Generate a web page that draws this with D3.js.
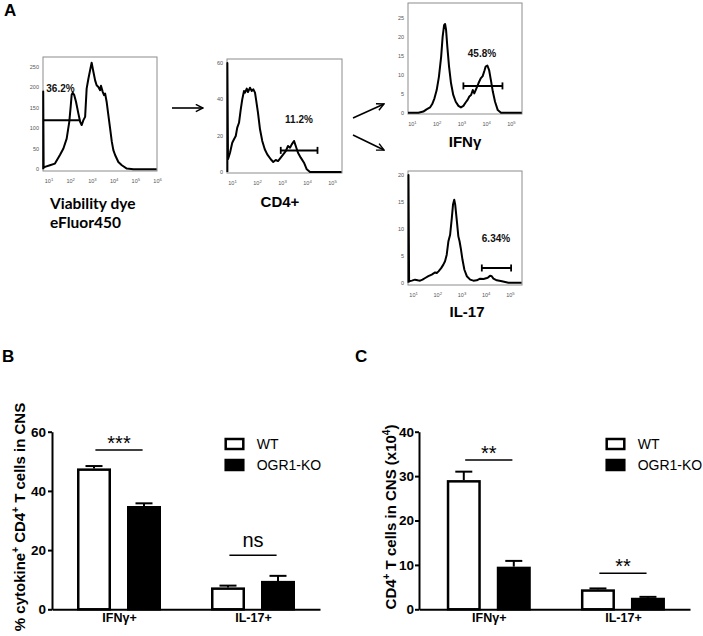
<!DOCTYPE html>
<html><head><meta charset="utf-8">
<script src="https://cdn.jsdelivr.net/npm/d3@7"></script>
<style>body{margin:0;background:#fff}svg{display:block}</style>
</head><body>
<svg id="fig" width="703" height="636"></svg>
<script>
// ---------- Panel A data: histogram points are [log10 fluorescence, events] ----------
const viabilityHist = [[0.78,0],[0.78,190],[0.80,4],[0.86,6],[1.09,10],[1.32,14],[1.55,35],[1.71,51],[1.86,75],[1.98,116],[2.05,156],[2.09,182],[2.14,187],[2.21,181],[2.29,165],[2.40,136],[2.48,116],[2.55,108],[2.63,120],[2.71,128],[2.78,197],[2.86,221],[2.94,242],[3.01,260],[3.09,238],[3.17,217],[3.24,205],[3.32,201],[3.40,193],[3.44,204],[3.52,189],[3.58,181],[3.63,185],[3.70,165],[3.78,132],[3.86,100],[3.94,67],[4.01,47],[4.09,35],[4.24,18],[4.40,10],[4.63,2],[4.93,0],[6.0,0]];
const cd4Hist = [[0.835,0],[0.835,60],[0.86,7],[0.94,10.6],[1.03,16.1],[1.10,18],[1.17,19.8],[1.23,24.4],[1.30,27.1],[1.37,34.5],[1.43,40],[1.50,44.6],[1.54,43.7],[1.61,45.9],[1.66,44],[1.74,46.4],[1.81,44.6],[1.87,45.5],[1.94,43.7],[1.99,39.1],[2.06,32.6],[2.14,23.5],[2.23,17.1],[2.33,12.5],[2.43,9.7],[2.57,7],[2.67,5.5],[2.77,6.6],[2.86,6.0],[2.97,7.9],[3.07,9.7],[3.17,11.5],[3.26,14.3],[3.34,13.4],[3.41,15.2],[3.50,17.1],[3.57,14.3],[3.66,10.6],[3.77,7.9],[3.90,5.1],[4.01,1.5],[4.14,0],[5.4,0]];
const ifngHist = [[0.86,0],[1.28,0],[1.48,0.3],[1.61,0.9],[1.75,1.4],[1.84,2.3],[1.93,3.8],[2.02,6.0],[2.11,9.5],[2.20,14.8],[2.26,20.1],[2.32,23.2],[2.36,23.5],[2.40,21.9],[2.45,17.5],[2.52,12.2],[2.60,7.8],[2.69,4.7],[2.79,2.9],[2.90,1.8],[3.00,1.4],[3.10,1.8],[3.19,2.7],[3.27,3.4],[3.34,4.3],[3.41,4.7],[3.48,6.0],[3.54,5.1],[3.61,6.2],[3.71,7.8],[3.80,9.1],[3.88,9.7],[3.95,11.1],[4.00,12.2],[4.07,12.5],[4.14,11.3],[4.21,8.7],[4.29,5.6],[4.38,2.9],[4.49,0.7],[4.62,0],[5.46,0]];
const il17Hist = [[0.83,0],[0.83,20],[0.855,0.25],[0.97,0.38],[1.10,0.56],[1.21,0.44],[1.31,0.38],[1.41,0.56],[1.52,0.87],[1.65,1.2],[1.79,1.5],[1.93,1.9],[2.00,1.8],[2.07,2.1],[2.18,2.7],[2.27,3.35],[2.34,3.97],[2.41,5.2],[2.48,7.7],[2.55,8.9],[2.62,12],[2.67,14.5],[2.72,15.4],[2.76,14.5],[2.83,11.4],[2.89,8.6],[2.94,7.7],[2.99,6.4],[3.06,4.3],[3.14,2.4],[3.24,1.2],[3.38,0.56],[3.51,0.38],[3.65,0.44],[3.79,0.75],[3.93,0.69],[4.07,0.87],[4.13,1.0],[4.20,1.3],[4.27,1.2],[4.34,0.75],[4.48,0.44],[4.69,0.25],[4.96,0],[5.5,0]];

// gates: [from log10, to log10, level]
const viabilityGate = [0.78, 2.48, 120];
const cd4Gate = [2.97, 4.44, 11.9];
const ifngGate = [3.10, 4.68, 7.1];
const il17Gate = [3.86, 5.07, 2.73];
const gatePercents = ["36.2%", "11.2%", "45.8%", "6.34%"];

const viabilityYTicks = [0, 50, 100, 150, 200, 250];
const cd4YTicks = [0, 20, 40, 60];
const ifngYTicks = [0, 5, 10, 15, 20, 25];
const il17YTicks = [0, 5, 10, 15, 20];
const decades6 = [1, 2, 3, 4, 5, 6];
const decades5 = [1, 2, 3, 4, 5];

// ---------- Panels B & C data ----------
const categories = ["IFNγ+", "IL-17+"];
const groups = ["WT", "OGR1-KO"];
const pctWT = [47.6, 7.4];
const pctWTErr = [0.8, 0.6];
const pctKO = [34.9, 9.6];
const pctKOErr = [0.9, 1.7];
const pctTicks = [0, 20, 40, 60];
const pctSig = ["***", "ns"];
const numWT = [29.1, 4.5];
const numWTErr = [1.9, 0.2];
const numKO = [9.6, 2.6];
const numKOErr = [1.3, 0.2];
const numTicks = [0, 10, 20, 30, 40];
const numSig = ["**", "**"];

const FONT = "'Liberation Sans', Arial, Helvetica, sans-serif";
const svg = d3.select("#fig");

// arrow marker
svg.append("defs").append("marker").attr("id","arr").attr("viewBox","0 0 10 10")
  .attr("refX",9).attr("refY",5).attr("markerWidth",9).attr("markerHeight",9)
  .attr("markerUnits","userSpaceOnUse").attr("orient","auto")
  .append("path").attr("d","M1,1 L9,5 L1,9").attr("fill","none").attr("stroke","#000").attr("stroke-width",1.6);

function drawHist(h) {
  const g = svg.append("g");
  const x = d3.scaleLog().domain([10 ** h.xd[0], 10 ** h.xd[1]]).range([h.x0, h.x1]);
  const y = d3.scaleLinear().domain(h.yd).range([h.y1, h.y0]);
  g.append("rect").attr("x", h.x0).attr("y", h.y0).attr("width", h.x1 - h.x0).attr("height", h.y1 - h.y0)
    .attr("fill", "none").attr("stroke", "#8c8c8c").attr("stroke-width", 1);
  g.selectAll(".yt").data(h.yTicks).join("text").attr("x", h.x0 - 4).attr("y", d => y(d) + 2)
    .attr("text-anchor", "end").attr("font-size", 5.5).attr("fill", "#555").attr("font-family", FONT).text(d => d);
  const xt = g.selectAll(".xt").data(h.xTicks).join("text").attr("x", d => x(10 ** d) + 1).attr("y", h.y1 + 12)
    .attr("text-anchor", "middle").attr("font-size", 5.5).attr("fill", "#555").attr("font-family", FONT);
  xt.append("tspan").text("10");
  xt.append("tspan").attr("dy", -2.5).attr("font-size", 4.2).text(d => d);
  const line = d3.line().x(d => x(10 ** d[0])).y(d => y(d[1]));
  g.append("path").datum(h.data).attr("d", line).attr("fill", "none").attr("stroke", "#000")
    .attr("stroke-width", 2).attr("stroke-linejoin", "round");
  const gy = y(h.gate[2]);
  g.append("line").attr("x1", x(10 ** h.gate[0])).attr("x2", x(10 ** h.gate[1])).attr("y1", gy).attr("y2", gy)
    .attr("stroke", "#000").attr("stroke-width", 2);
  if (h.caps) {
    [h.gate[0], h.gate[1]].forEach(v => g.append("line").attr("x1", x(10 ** v)).attr("x2", x(10 ** v))
      .attr("y1", gy - 3.5).attr("y2", gy + 3.5).attr("stroke", "#000").attr("stroke-width", 1.8));
  }
  g.append("text").attr("x", h.pct[0]).attr("y", h.pct[1]).attr("text-anchor", "middle")
    .attr("font-family", FONT).attr("font-weight", "bold").attr("font-size", 10).attr("fill", "#111").text(h.pctText);
  h.title.forEach((t, i) => g.append("text").attr("x", t.x).attr("y", t.y).attr("text-anchor", t.anchor)
    .attr("font-family", t.font).attr("font-weight", "bold").attr("font-size", t.size).attr("fill", "#000").text(t.text));
}

drawHist({x0:43, x1:157, y0:57, y1:171, xd:[0.77, 6.02], yd:[-4, 274], data:viabilityHist, yTicks:viabilityYTicks,
  xTicks:decades6, gate:viabilityGate, caps:false, pct:[60.5, 92], pctText:gatePercents[0],
  title:[{text:"Viability dye", x:50, y:209, anchor:"start", size:15.5, font:"Lato, 'Open Sans', sans-serif"},
         {text:"eFluor450", x:50, y:228, anchor:"start", size:15.5, font:"Lato, 'Open Sans', sans-serif"}]});
drawHist({x0:227, x1:342, y0:59, y1:173, xd:[0.82, 5.42], yd:[-0.55, 62.2], data:cd4Hist, yTicks:cd4YTicks,
  xTicks:decades5, gate:cd4Gate, caps:true, pct:[299, 123], pctText:gatePercents[1],
  title:[{text:"CD4+", x:280, y:207, anchor:"middle", size:15, font:FONT}]});
drawHist({x0:408, x1:522, y0:3, y1:114, xd:[0.86, 5.47], yd:[-0.34, 29.05], data:ifngHist, yTicks:ifngYTicks,
  xTicks:decades5, gate:ifngGate, caps:true, pct:[482, 57], pctText:gatePercents[2],
  title:[{text:"IFNγ", x:465, y:147, anchor:"middle", size:15, font:FONT}]});
drawHist({x0:408, x1:522, y0:171, y1:285, xd:[0.81, 5.52], yd:[-0.43, 20.74], data:il17Hist, yTicks:il17YTicks,
  xTicks:decades5, gate:il17Gate, caps:true, pct:[496, 242], pctText:gatePercents[3],
  title:[{text:"IL-17", x:467, y:317, anchor:"middle", size:15, font:FONT}]});

[[172,108,203,108],[353,118,384,104],[353,135,384,150]].forEach(a =>
  svg.append("line").attr("x1",a[0]).attr("y1",a[1]).attr("x2",a[2]).attr("y2",a[3])
    .attr("stroke","#000").attr("stroke-width",1.6).attr("marker-end","url(#arr)"));

// panel letters
[["A",4,16],["B",2,362],["C",355,362]].forEach(l => svg.append("text").attr("x",l[1]).attr("y",l[2])
  .attr("font-family",FONT).attr("font-weight","bold").attr("font-size",17).text(l[0]));

function drawBars(c) {
  const g = svg.append("g");
  const y = d3.scaleLinear().domain([0, c.yMax]).range([609.3, 431.7]);
  const x0 = d3.scalePoint().domain(categories).range([c.ax, c.axEnd]).padding(c.pad).align(c.align);
  const x1 = d3.scaleBand().domain(groups).range([-42, 42]).paddingInner(0.32).paddingOuter(0);
  const bw = x1.bandwidth();
  const rows = [];
  categories.forEach((cat, i) => {
    rows.push({cat, grp: groups[0], v: c.wt[i], e: c.wtErr[i]});
    rows.push({cat, grp: groups[1], v: c.ko[i], e: c.koErr[i]});
  });
  // error bars (upper only)
  rows.forEach(r => {
    const cx = x0(r.cat) + x1(r.grp) + bw / 2;
    g.append("line").attr("x1", cx).attr("x2", cx).attr("y1", y(r.v)).attr("y2", y(r.v + r.e)).attr("stroke", "#000").attr("stroke-width", 2);
    g.append("line").attr("x1", cx - 8.5).attr("x2", cx + 8.5).attr("y1", y(r.v + r.e)).attr("y2", y(r.v + r.e)).attr("stroke", "#000").attr("stroke-width", 2);
  });
  g.selectAll(".bar").data(rows).join("rect")
    .attr("x", d => x0(d.cat) + x1(d.grp) + 1.25).attr("width", bw - 2.5)
    .attr("y", d => y(d.v) + 1.25).attr("height", d => y(0) - y(d.v) - 1.25)
    .attr("fill", d => d.grp === groups[0] ? "#fff" : "#000").attr("stroke", "#000").attr("stroke-width", 2.5);
  // axes
  const ya = g.append("g").attr("transform", `translate(${c.ax},0)`)
    .call(d3.axisLeft(y).tickValues(c.ticks).tickSize(4).tickSizeOuter(0).tickPadding(c.tickPad));
  ya.select(".domain").attr("stroke-width", 2);
  ya.selectAll(".tick line").attr("stroke-width", 2);
  ya.selectAll("text").attr("font-family", FONT).attr("font-weight", "bold").attr("font-size", 13.5).attr("fill", "#000");
  const xa = g.append("g").attr("transform", `translate(0,609.3)`)
    .call(d3.axisBottom(x0).tickSize(0).tickSizeOuter(0).tickPadding(4));
  xa.select(".domain").attr("stroke-width", 2);
  xa.selectAll("text").attr("font-family", FONT).attr("font-weight", "bold").attr("font-size", 12.5).attr("fill", "#000");
  // significance
  categories.forEach((cat, i) => {
    const cx = x0(cat), ly = y(c.sigLevel[i]);
    g.append("line").attr("x1", cx - 23.6).attr("x2", cx + 23.6).attr("y1", ly).attr("y2", ly).attr("stroke", "#000").attr("stroke-width", 1.5);
    g.append("text").attr("x", cx).attr("y", ly - (c.sig[i] === "ns" ? 8 : 0.5)).attr("text-anchor", "middle")
      .attr("font-family", FONT).attr("font-size", 20).text(c.sig[i]);
  });
  // legend
  groups.forEach((grp, i) => {
    const ly = 439 + i * 21;
    g.append("rect").attr("x", c.legX).attr("y", ly).attr("width", 17.6).attr("height", 10)
      .attr("fill", i === 0 ? "#fff" : "#000").attr("stroke", "#000").attr("stroke-width", 2.5);
    g.append("text").attr("x", c.legX + 31).attr("y", ly + 10).attr("font-family", FONT).attr("font-size", 14).text(grp);
  });
  // y label
  const yl = g.append("text").attr("transform", `translate(${c.labX},517) rotate(-90)`).attr("text-anchor", "middle")
    .attr("font-family", FONT).attr("font-weight", "bold").attr("font-size", 15);
  c.label.forEach(p => {
    const t = yl.append("tspan").text(p.t);
    if (p.sup) t.attr("dy", -6).attr("font-size", 10);
    if (p.down) t.attr("dy", 6);
  });
}

drawBars({ax:52, axEnd:320, pad:0.5, align:0.5, yMax:60, ticks:pctTicks, wt:pctWT, wtErr:pctWTErr, ko:pctKO, koErr:pctKOErr,
  sig:pctSig, sigLevel:[53.8, 18.3], legX:225.7, labX:25, tickPad:2,
  label:[{t:"% cytokine"},{t:"+",sup:true},{t:" CD4",down:true},{t:"+",sup:true},{t:" T cells in CNS",down:true}]});
drawBars({ax:419, axEnd:690, pad:0.51, align:0.51, yMax:40, ticks:numTicks, wt:numWT, wtErr:numWTErr, ko:numKO, koErr:numKOErr,
  sig:numSig, sigLevel:[33.6, 8.1], legX:606.7, labX:396, tickPad:1,
  label:[{t:"CD4"},{t:"+",sup:true},{t:" T cells in CNS (x10",down:true},{t:"4",sup:true},{t:")",down:true}]});
</script>
</body></html>
